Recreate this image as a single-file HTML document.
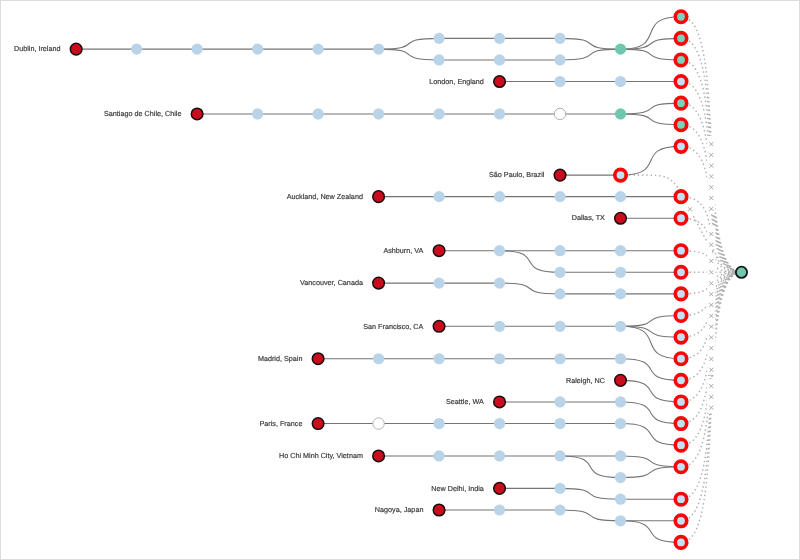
<!DOCTYPE html>
<html><head><meta charset="utf-8"><title>Traceroute tree</title>
<style>
html,body{margin:0;padding:0;background:#fff;}
body{width:800px;height:560px;overflow:hidden;font-family:"Liberation Sans",sans-serif;}
#frame{position:absolute;left:0;top:0;width:798px;height:558px;border:1px solid #dcdcdc;background:#fff;}
svg{position:absolute;left:0;top:0;}
svg{will-change:transform}
</style></head><body>
<div id="frame"></div>
<svg width="800" height="560" viewBox="0 0 800 560">
<g fill="none" stroke="#adadad" stroke-width="1.4" stroke-dasharray="1.45 2.835">
<path d="M681.00,16.75C729.39,16.75 693.10,272.30 741.49,272.30"/>
<path d="M681.00,38.35C729.39,38.35 693.10,272.30 741.49,272.30"/>
<path d="M681.00,59.95C729.39,59.95 693.10,272.30 741.49,272.30"/>
<path d="M681.00,81.55C729.39,81.55 693.10,272.30 741.49,272.30"/>
<path d="M681.00,103.15C729.39,103.15 693.10,272.30 741.49,272.30"/>
<path d="M681.00,124.75C729.39,124.75 693.10,272.30 741.49,272.30"/>
<path d="M681.00,146.35C729.39,146.35 693.10,272.30 741.49,272.30"/>
<path d="M681.00,196.65C729.39,196.65 693.10,272.30 741.49,272.30"/>
<path d="M681.00,218.26C729.39,218.26 693.10,272.30 741.49,272.30"/>
<path d="M681.00,250.68C729.39,250.68 693.10,272.30 741.49,272.30"/>
<path d="M681.00,272.28C729.39,272.28 693.10,272.30 741.49,272.30"/>
<path d="M681.00,293.89C729.39,293.89 693.10,272.30 741.49,272.30"/>
<path d="M681.00,315.50C729.39,315.50 693.10,272.30 741.49,272.30"/>
<path d="M681.00,337.12C729.39,337.12 693.10,272.30 741.49,272.30"/>
<path d="M681.00,358.73C729.39,358.73 693.10,272.30 741.49,272.30"/>
<path d="M681.00,380.34C729.39,380.34 693.10,272.30 741.49,272.30"/>
<path d="M681.00,401.94C729.39,401.94 693.10,272.30 741.49,272.30"/>
<path d="M681.00,423.56C729.39,423.56 693.10,272.30 741.49,272.30"/>
<path d="M681.00,445.16C729.39,445.16 693.10,272.30 741.49,272.30"/>
<path d="M681.00,466.77C729.39,466.77 693.10,272.30 741.49,272.30"/>
<path d="M681.00,499.19C729.39,499.19 693.10,272.30 741.49,272.30"/>
<path d="M681.00,520.80C729.39,520.80 693.10,272.30 741.49,272.30"/>
<path d="M681.00,542.41C729.39,542.41 693.10,272.30 741.49,272.30"/>
<path d="M620.52,175.1C673.95,175.1 669.85,171.8 689.9,209.35C702.3,232.6 719.7,272.3 741.49,272.3"/>
</g>
<g fill="#fff">
<rect x="707.19" y="135.98" width="8.2" height="12.6"/>
<rect x="707.19" y="146.78" width="8.2" height="12.6"/>
<rect x="707.19" y="157.58" width="8.2" height="12.6"/>
<rect x="707.19" y="168.38" width="8.2" height="12.6"/>
<rect x="707.19" y="179.18" width="8.2" height="12.6"/>
<rect x="707.19" y="189.98" width="8.2" height="12.6"/>
<rect x="707.19" y="200.78" width="8.2" height="12.6"/>
<rect x="707.19" y="225.93" width="8.2" height="12.6"/>
<rect x="707.19" y="236.73" width="8.2" height="12.6"/>
<rect x="707.19" y="252.94" width="8.2" height="12.6"/>
<rect x="707.19" y="265.39" width="8.2" height="12.0"/>
<rect x="707.19" y="276.50" width="8.2" height="12.0"/>
<rect x="707.19" y="287.30" width="8.2" height="12.0"/>
<rect x="707.19" y="298.11" width="8.2" height="12.0"/>
<rect x="707.19" y="308.92" width="8.2" height="12.0"/>
<rect x="707.19" y="319.72" width="8.2" height="12.0"/>
<rect x="707.19" y="330.52" width="8.2" height="12.0"/>
<rect x="707.19" y="341.33" width="8.2" height="12.0"/>
<rect x="707.19" y="352.13" width="8.2" height="12.0"/>
<rect x="707.19" y="362.94" width="8.2" height="12.0"/>
<rect x="707.19" y="379.15" width="8.2" height="12.0"/>
<rect x="707.19" y="389.95" width="8.2" height="12.0"/>
<rect x="707.19" y="400.76" width="8.2" height="12.0"/>
<rect x="685.90" y="201.20" width="8.2" height="12.6"/>
</g>
<g stroke="#a0a0a0" stroke-width="0.9" fill="none">
<path d="M709.25,142.03l4.1,4.1M709.25,146.13l4.1,-4.1M709.25,152.83l4.1,4.1M709.25,156.93l4.1,-4.1M709.25,163.62l4.1,4.1M709.25,167.73l4.1,-4.1M709.25,174.43l4.1,4.1M709.25,178.53l4.1,-4.1M709.25,185.23l4.1,4.1M709.25,189.33l4.1,-4.1M709.25,196.03l4.1,4.1M709.25,200.13l4.1,-4.1M709.25,206.82l4.1,4.1M709.25,210.93l4.1,-4.1M709.25,231.98l4.1,4.1M709.25,236.08l4.1,-4.1M709.25,242.78l4.1,4.1M709.25,246.88l4.1,-4.1M709.25,258.99l4.1,4.1M709.25,263.09l4.1,-4.1M709.25,270.24l4.1,4.1M709.25,274.34l4.1,-4.1M709.25,281.35l4.1,4.1M709.25,285.45l4.1,-4.1M709.25,292.15l4.1,4.1M709.25,296.25l4.1,-4.1M709.25,302.96l4.1,4.1M709.25,307.06l4.1,-4.1M709.25,313.76l4.1,4.1M709.25,317.87l4.1,-4.1M709.25,324.57l4.1,4.1M709.25,328.67l4.1,-4.1M709.25,335.37l4.1,4.1M709.25,339.47l4.1,-4.1M709.25,346.18l4.1,4.1M709.25,350.28l4.1,-4.1M709.25,356.98l4.1,4.1M709.25,361.08l4.1,-4.1M709.25,367.78l4.1,4.1M709.25,371.88l4.1,-4.1M709.25,384.00l4.1,4.1M709.25,388.10l4.1,-4.1M709.25,394.80l4.1,4.1M709.25,398.90l4.1,-4.1M709.25,405.61l4.1,4.1M709.25,409.71l4.1,-4.1M687.95,207.25l4.1,4.1M687.95,211.35l4.1,-4.1"/>
</g>
<g fill="none" stroke="#747474" stroke-width="1.08">
<path d="M76.15,49.15H136.63"/>
<path d="M136.63,49.15H197.12"/>
<path d="M197.12,49.15H257.61"/>
<path d="M257.61,49.15H318.09"/>
<path d="M318.09,49.15H378.58"/>
<path d="M378.58,49.15C426.96,49.15 390.68,38.35 439.06,38.35"/>
<path d="M378.58,49.15C426.96,49.15 390.68,59.95 439.06,59.95"/>
<path d="M439.06,38.35H499.54"/>
<path d="M499.54,38.35H560.03"/>
<path d="M439.06,59.95H499.54"/>
<path d="M499.54,59.95H560.03"/>
<path d="M560.03,38.35C608.41,38.35 572.13,49.15 620.51,49.15"/>
<path d="M560.03,59.95C608.41,59.95 572.13,49.15 620.51,49.15"/>
<path d="M620.51,49.15C668.90,49.15 632.61,16.75 681.00,16.75"/>
<path d="M620.51,49.15C668.90,49.15 632.61,38.35 681.00,38.35"/>
<path d="M620.51,49.15C668.90,49.15 632.61,59.95 681.00,59.95"/>
<path d="M499.54,81.55H560.03"/>
<path d="M560.03,81.55H620.51"/>
<path d="M620.51,81.55H681.00"/>
<path d="M197.12,113.95H257.61"/>
<path d="M257.61,113.95H318.09"/>
<path d="M318.09,113.95H378.58"/>
<path d="M378.58,113.95H439.06"/>
<path d="M439.06,113.95H499.54"/>
<path d="M499.54,113.95H560.03"/>
<path d="M560.03,113.95H620.51"/>
<path d="M620.51,113.95C668.90,113.95 632.61,103.15 681.00,103.15"/>
<path d="M620.51,113.95C668.90,113.95 632.61,124.75 681.00,124.75"/>
<path d="M560.03,175.10H620.51"/>
<path d="M620.51,175.10C668.90,175.10 632.61,146.35 681.00,146.35"/>
<path d="M378.58,196.65H439.06"/>
<path d="M439.06,196.65H499.54"/>
<path d="M499.54,196.65H560.03"/>
<path d="M560.03,196.65H620.51"/>
<path d="M620.51,196.65H681.00"/>
<path d="M620.51,218.26H681.00"/>
<path d="M439.06,250.68H499.54"/>
<path d="M499.54,250.68H560.03"/>
<path d="M560.03,250.68H620.51"/>
<path d="M620.51,250.68H681.00"/>
<path d="M499.54,250.68C547.93,250.68 511.64,272.28 560.03,272.28"/>
<path d="M560.03,272.28H620.51"/>
<path d="M620.51,272.28H681.00"/>
<path d="M378.58,283.09H439.06"/>
<path d="M439.06,283.09H499.54"/>
<path d="M499.54,283.09C547.93,283.09 511.64,293.89 560.03,293.89"/>
<path d="M560.03,293.89H620.51"/>
<path d="M620.51,293.89H681.00"/>
<path d="M439.06,326.31H499.54"/>
<path d="M499.54,326.31H560.03"/>
<path d="M560.03,326.31H620.51"/>
<path d="M620.51,326.31C668.90,326.31 632.61,315.50 681.00,315.50"/>
<path d="M620.51,326.31C668.90,326.31 632.61,337.12 681.00,337.12"/>
<path d="M620.51,326.31C668.90,326.31 632.61,358.73 681.00,358.73"/>
<path d="M318.09,358.73H378.58"/>
<path d="M378.58,358.73H439.06"/>
<path d="M439.06,358.73H499.54"/>
<path d="M499.54,358.73H560.03"/>
<path d="M560.03,358.73H620.51"/>
<path d="M620.51,358.73C668.90,358.73 632.61,380.34 681.00,380.34"/>
<path d="M620.51,380.34C668.90,380.34 632.61,401.94 681.00,401.94"/>
<path d="M499.54,401.94H560.03"/>
<path d="M560.03,401.94H620.51"/>
<path d="M620.51,401.94C668.90,401.94 632.61,423.56 681.00,423.56"/>
<path d="M318.09,423.56H378.58"/>
<path d="M378.58,423.56H439.06"/>
<path d="M439.06,423.56H499.54"/>
<path d="M499.54,423.56H560.03"/>
<path d="M560.03,423.56H620.51"/>
<path d="M620.51,423.56C668.90,423.56 632.61,445.16 681.00,445.16"/>
<path d="M378.58,455.97H439.06"/>
<path d="M439.06,455.97H499.54"/>
<path d="M499.54,455.97H560.03"/>
<path d="M560.03,455.97H620.51"/>
<path d="M560.03,455.97C608.41,455.97 572.13,477.58 620.51,477.58"/>
<path d="M620.51,455.97C668.90,455.97 632.61,466.77 681.00,466.77"/>
<path d="M620.51,477.58C668.90,477.58 632.61,466.77 681.00,466.77"/>
<path d="M499.54,488.38H560.03"/>
<path d="M560.03,488.38C608.41,488.38 572.13,499.19 620.51,499.19"/>
<path d="M620.51,499.19H681.00"/>
<path d="M439.06,510.00H499.54"/>
<path d="M499.54,510.00H560.03"/>
<path d="M560.03,510.00C608.41,510.00 572.13,520.80 620.51,520.80"/>
<path d="M620.51,520.80H681.00"/>
<path d="M620.51,520.80C668.90,520.80 632.61,542.41 681.00,542.41"/>
</g>
<circle cx="681.00" cy="16.75" r="5.72" fill="#78d2bc" stroke="#fb0606" stroke-width="3.65"/>
<circle cx="439.06" cy="38.35" r="5.6" fill="#b9d3e8"/>
<circle cx="499.54" cy="38.35" r="5.6" fill="#b9d3e8"/>
<circle cx="560.03" cy="38.35" r="5.6" fill="#b9d3e8"/>
<circle cx="681.00" cy="38.35" r="5.72" fill="#78d2bc" stroke="#fb0606" stroke-width="3.65"/>
<circle cx="76.15" cy="49.15" r="5.8" fill="#c90c1e" stroke="#1a0d0d" stroke-width="1.5"/>
<circle cx="136.63" cy="49.15" r="5.6" fill="#b9d3e8"/>
<circle cx="197.12" cy="49.15" r="5.6" fill="#b9d3e8"/>
<circle cx="257.61" cy="49.15" r="5.6" fill="#b9d3e8"/>
<circle cx="318.09" cy="49.15" r="5.6" fill="#b9d3e8"/>
<circle cx="378.58" cy="49.15" r="5.6" fill="#b9d3e8"/>
<circle cx="620.51" cy="49.15" r="5.6" fill="#6ec7ae"/>
<circle cx="439.06" cy="59.95" r="5.6" fill="#b9d3e8"/>
<circle cx="499.54" cy="59.95" r="5.6" fill="#b9d3e8"/>
<circle cx="560.03" cy="59.95" r="5.6" fill="#b9d3e8"/>
<circle cx="681.00" cy="59.95" r="5.72" fill="#78d2bc" stroke="#fb0606" stroke-width="3.65"/>
<circle cx="499.54" cy="81.55" r="5.8" fill="#c90c1e" stroke="#1a0d0d" stroke-width="1.5"/>
<circle cx="560.03" cy="81.55" r="5.6" fill="#b9d3e8"/>
<circle cx="620.51" cy="81.55" r="5.6" fill="#b9d3e8"/>
<circle cx="681.00" cy="81.55" r="5.72" fill="#bfe2f4" stroke="#fb0606" stroke-width="3.65"/>
<circle cx="681.00" cy="103.15" r="5.72" fill="#78d2bc" stroke="#fb0606" stroke-width="3.65"/>
<circle cx="197.12" cy="113.95" r="5.8" fill="#c90c1e" stroke="#1a0d0d" stroke-width="1.5"/>
<circle cx="257.61" cy="113.95" r="5.6" fill="#b9d3e8"/>
<circle cx="318.09" cy="113.95" r="5.6" fill="#b9d3e8"/>
<circle cx="378.58" cy="113.95" r="5.6" fill="#b9d3e8"/>
<circle cx="439.06" cy="113.95" r="5.6" fill="#b9d3e8"/>
<circle cx="499.54" cy="113.95" r="5.6" fill="#b9d3e8"/>
<circle cx="560.03" cy="113.95" r="5.699999999999999" fill="#fff" stroke="#b2b2b2" stroke-width="1"/>
<circle cx="620.51" cy="113.95" r="5.6" fill="#6ec7ae"/>
<circle cx="681.00" cy="124.75" r="5.72" fill="#78d2bc" stroke="#fb0606" stroke-width="3.65"/>
<circle cx="681.00" cy="146.35" r="5.72" fill="#bfe2f4" stroke="#fb0606" stroke-width="3.65"/>
<circle cx="560.03" cy="175.10" r="5.8" fill="#c90c1e" stroke="#1a0d0d" stroke-width="1.5"/>
<circle cx="620.51" cy="175.10" r="5.72" fill="#bfe2f4" stroke="#fb0606" stroke-width="3.65"/>
<circle cx="378.58" cy="196.65" r="5.8" fill="#c90c1e" stroke="#1a0d0d" stroke-width="1.5"/>
<circle cx="439.06" cy="196.65" r="5.6" fill="#b9d3e8"/>
<circle cx="499.54" cy="196.65" r="5.6" fill="#b9d3e8"/>
<circle cx="560.03" cy="196.65" r="5.6" fill="#b9d3e8"/>
<circle cx="620.51" cy="196.65" r="5.6" fill="#b9d3e8"/>
<circle cx="681.00" cy="196.65" r="5.72" fill="#bfe2f4" stroke="#fb0606" stroke-width="3.65"/>
<circle cx="620.51" cy="218.26" r="5.8" fill="#c90c1e" stroke="#1a0d0d" stroke-width="1.5"/>
<circle cx="681.00" cy="218.26" r="5.72" fill="#bfe2f4" stroke="#fb0606" stroke-width="3.65"/>
<circle cx="439.06" cy="250.68" r="5.8" fill="#c90c1e" stroke="#1a0d0d" stroke-width="1.5"/>
<circle cx="499.54" cy="250.68" r="5.6" fill="#b9d3e8"/>
<circle cx="560.03" cy="250.68" r="5.6" fill="#b9d3e8"/>
<circle cx="620.51" cy="250.68" r="5.6" fill="#b9d3e8"/>
<circle cx="681.00" cy="250.68" r="5.72" fill="#bfe2f4" stroke="#fb0606" stroke-width="3.65"/>
<circle cx="560.03" cy="272.28" r="5.6" fill="#b9d3e8"/>
<circle cx="620.51" cy="272.28" r="5.6" fill="#b9d3e8"/>
<circle cx="681.00" cy="272.28" r="5.72" fill="#bfe2f4" stroke="#fb0606" stroke-width="3.65"/>
<circle cx="378.58" cy="283.09" r="5.8" fill="#c90c1e" stroke="#1a0d0d" stroke-width="1.5"/>
<circle cx="439.06" cy="283.09" r="5.6" fill="#b9d3e8"/>
<circle cx="499.54" cy="283.09" r="5.6" fill="#b9d3e8"/>
<circle cx="560.03" cy="293.89" r="5.6" fill="#b9d3e8"/>
<circle cx="620.51" cy="293.89" r="5.6" fill="#b9d3e8"/>
<circle cx="681.00" cy="293.89" r="5.72" fill="#bfe2f4" stroke="#fb0606" stroke-width="3.65"/>
<circle cx="681.00" cy="315.50" r="5.72" fill="#bfe2f4" stroke="#fb0606" stroke-width="3.65"/>
<circle cx="439.06" cy="326.31" r="5.8" fill="#c90c1e" stroke="#1a0d0d" stroke-width="1.5"/>
<circle cx="499.54" cy="326.31" r="5.6" fill="#b9d3e8"/>
<circle cx="560.03" cy="326.31" r="5.6" fill="#b9d3e8"/>
<circle cx="620.51" cy="326.31" r="5.6" fill="#b9d3e8"/>
<circle cx="681.00" cy="337.12" r="5.72" fill="#bfe2f4" stroke="#fb0606" stroke-width="3.65"/>
<circle cx="318.09" cy="358.73" r="5.8" fill="#c90c1e" stroke="#1a0d0d" stroke-width="1.5"/>
<circle cx="378.58" cy="358.73" r="5.6" fill="#b9d3e8"/>
<circle cx="439.06" cy="358.73" r="5.6" fill="#b9d3e8"/>
<circle cx="499.54" cy="358.73" r="5.6" fill="#b9d3e8"/>
<circle cx="560.03" cy="358.73" r="5.6" fill="#b9d3e8"/>
<circle cx="620.51" cy="358.73" r="5.6" fill="#b9d3e8"/>
<circle cx="681.00" cy="358.73" r="5.72" fill="#bfe2f4" stroke="#fb0606" stroke-width="3.65"/>
<circle cx="620.51" cy="380.34" r="5.8" fill="#c90c1e" stroke="#1a0d0d" stroke-width="1.5"/>
<circle cx="681.00" cy="380.34" r="5.72" fill="#bfe2f4" stroke="#fb0606" stroke-width="3.65"/>
<circle cx="499.54" cy="401.94" r="5.8" fill="#c90c1e" stroke="#1a0d0d" stroke-width="1.5"/>
<circle cx="560.03" cy="401.94" r="5.6" fill="#b9d3e8"/>
<circle cx="620.51" cy="401.94" r="5.6" fill="#b9d3e8"/>
<circle cx="681.00" cy="401.94" r="5.72" fill="#bfe2f4" stroke="#fb0606" stroke-width="3.65"/>
<circle cx="318.09" cy="423.56" r="5.8" fill="#c90c1e" stroke="#1a0d0d" stroke-width="1.5"/>
<circle cx="378.58" cy="423.56" r="5.699999999999999" fill="#fff" stroke="#b2b2b2" stroke-width="1"/>
<circle cx="439.06" cy="423.56" r="5.6" fill="#b9d3e8"/>
<circle cx="499.54" cy="423.56" r="5.6" fill="#b9d3e8"/>
<circle cx="560.03" cy="423.56" r="5.6" fill="#b9d3e8"/>
<circle cx="620.51" cy="423.56" r="5.6" fill="#b9d3e8"/>
<circle cx="681.00" cy="423.56" r="5.72" fill="#bfe2f4" stroke="#fb0606" stroke-width="3.65"/>
<circle cx="681.00" cy="445.16" r="5.72" fill="#bfe2f4" stroke="#fb0606" stroke-width="3.65"/>
<circle cx="378.58" cy="455.97" r="5.8" fill="#c90c1e" stroke="#1a0d0d" stroke-width="1.5"/>
<circle cx="439.06" cy="455.97" r="5.6" fill="#b9d3e8"/>
<circle cx="499.54" cy="455.97" r="5.6" fill="#b9d3e8"/>
<circle cx="560.03" cy="455.97" r="5.6" fill="#b9d3e8"/>
<circle cx="620.51" cy="455.97" r="5.6" fill="#b9d3e8"/>
<circle cx="681.00" cy="466.77" r="5.72" fill="#bfe2f4" stroke="#fb0606" stroke-width="3.65"/>
<circle cx="620.51" cy="477.58" r="5.6" fill="#b9d3e8"/>
<circle cx="499.54" cy="488.38" r="5.8" fill="#c90c1e" stroke="#1a0d0d" stroke-width="1.5"/>
<circle cx="560.03" cy="488.38" r="5.6" fill="#b9d3e8"/>
<circle cx="620.51" cy="499.19" r="5.6" fill="#b9d3e8"/>
<circle cx="681.00" cy="499.19" r="5.72" fill="#bfe2f4" stroke="#fb0606" stroke-width="3.65"/>
<circle cx="439.06" cy="510.00" r="5.8" fill="#c90c1e" stroke="#1a0d0d" stroke-width="1.5"/>
<circle cx="499.54" cy="510.00" r="5.6" fill="#b9d3e8"/>
<circle cx="560.03" cy="510.00" r="5.6" fill="#b9d3e8"/>
<circle cx="620.51" cy="520.80" r="5.6" fill="#b9d3e8"/>
<circle cx="681.00" cy="520.80" r="5.72" fill="#bfe2f4" stroke="#fb0606" stroke-width="3.65"/>
<circle cx="681.00" cy="542.41" r="5.72" fill="#bfe2f4" stroke="#fb0606" stroke-width="3.65"/>
<circle cx="741.49" cy="272.30" r="5.6" fill="#70c8ae" stroke="#151a18" stroke-width="1.8"/>
<g font-family="'Liberation Sans', sans-serif" font-size="7.22" fill="#3a3a3a" stroke="#3a3a3a" stroke-width="0.18" text-anchor="end" text-rendering="geometricPrecision">
<text x="60.50" y="51.35">Dublin, Ireland</text>
<text x="483.89" y="83.75">London, England</text>
<text x="181.47" y="116.15">Santiago de Chile, Chile</text>
<text x="544.38" y="177.30">São Paulo, Brazil</text>
<text x="362.93" y="198.85">Auckland, New Zealand</text>
<text x="604.86" y="220.46">Dallas, TX</text>
<text x="423.41" y="252.88">Ashburn, VA</text>
<text x="362.93" y="285.29">Vancouver, Canada</text>
<text x="423.41" y="328.51">San Francisco, CA</text>
<text x="302.44" y="360.93">Madrid, Spain</text>
<text x="604.86" y="382.54">Raleigh, NC</text>
<text x="483.89" y="404.14">Seattle, WA</text>
<text x="302.44" y="425.76">Paris, France</text>
<text x="362.93" y="458.17">Ho Chi Minh City, Vietnam</text>
<text x="483.89" y="490.58">New Delhi, India</text>
<text x="423.41" y="512.20">Nagoya, Japan</text>
</g>
</svg>
</body></html>
